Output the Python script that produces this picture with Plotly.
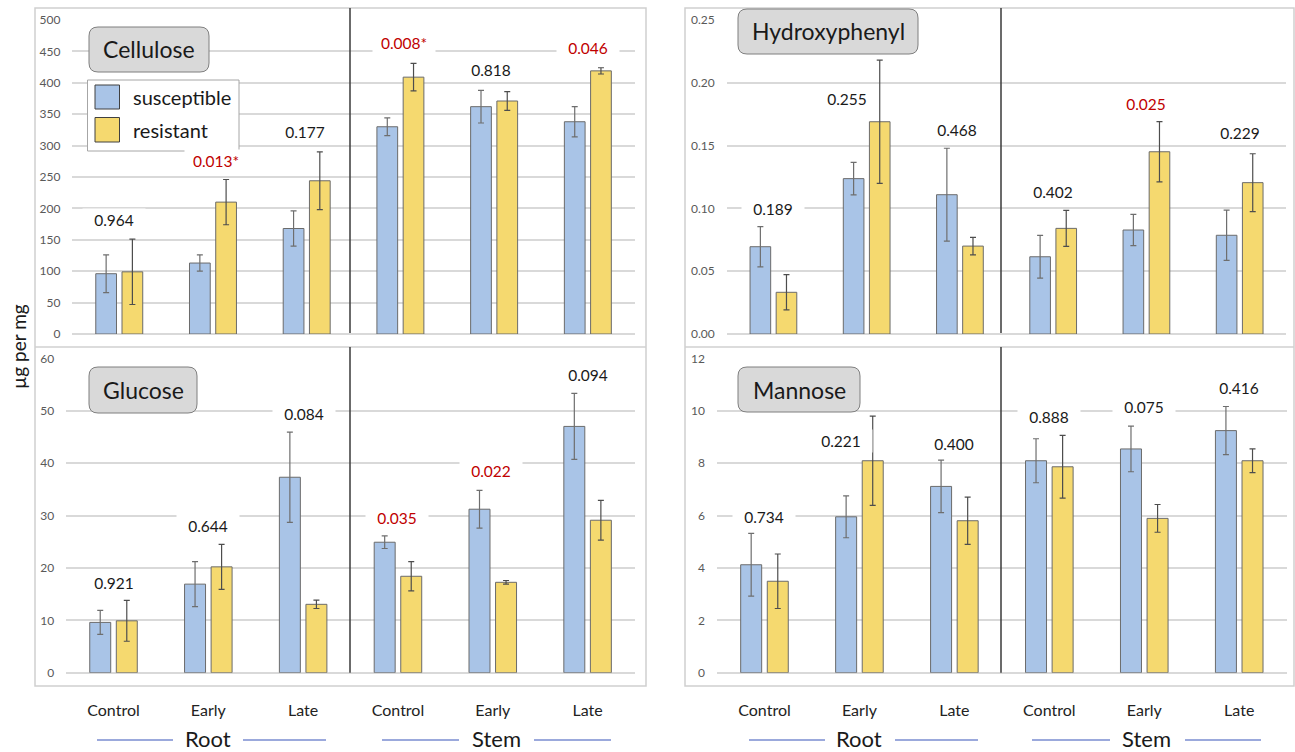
import plotly.graph_objects as go

W, H = 1295, 752

# ---------------- data ----------------
categories = ["Control", "Early", "Late", "Control", "Early", "Late"]
tissues = ["Root", "Stem"]
series_names = ["susceptible", "resistant"]

cellulose_sus = [96, 113, 168, 330, 362, 338]
cellulose_sus_err = [30, 13, 28, 14, 26, 24]
cellulose_res = [99, 210, 244, 409, 371, 419]
cellulose_res_err = [52, 36, 46, 22, 15, 5]
cellulose_p = ["0.964", "0.013*", "0.177", "0.008*", "0.818", "0.046"]
cellulose_sig = [False, True, False, True, False, True]

hydroxy_sus = [0.0695, 0.1237, 0.1109, 0.0615, 0.0828, 0.0786]
hydroxy_sus_err = [0.016, 0.013, 0.037, 0.017, 0.0125, 0.020]
hydroxy_res = [0.0332, 0.169, 0.070, 0.0841, 0.1451, 0.1205]
hydroxy_res_err = [0.014, 0.049, 0.007, 0.0143, 0.024, 0.023]
hydroxy_p = ["0.189", "0.255", "0.468", "0.402", "0.025", "0.229"]
hydroxy_sig = [False, False, False, False, True, False]

glucose_sus = [9.6, 16.9, 37.3, 24.9, 31.2, 47.0]
glucose_sus_err = [2.3, 4.3, 8.6, 1.2, 3.6, 6.3]
glucose_res = [9.9, 20.2, 13.05, 18.4, 17.25, 29.1]
glucose_res_err = [3.9, 4.3, 0.8, 2.8, 0.35, 3.8]
glucose_p = ["0.921", "0.644", "0.084", "0.035", "0.022", "0.094"]
glucose_sig = [False, False, False, True, True, False]

mannose_sus = [4.12, 5.95, 7.11, 8.09, 8.54, 9.24]
mannose_sus_err = [1.2, 0.8, 1.0, 0.84, 0.87, 0.92]
mannose_res = [3.49, 8.09, 5.8, 7.86, 5.89, 8.09]
mannose_res_err = [1.04, 1.7, 0.9, 1.2, 0.53, 0.45]
mannose_p = ["0.734", "0.221", "0.400", "0.888", "0.075", "0.416"]
mannose_sig = [False, False, False, False, False, False]

# label placement (layout, not data)
cellulose_label_y = [181, 275, 322, 463, 420, 455]
cellulose_label_dx = [-0.06, 0.03, -0.02, 0.04, -0.03, 0]
hydroxy_label_y = [0.0995, 0.1869, 0.1624, 0.1133, 0.1831, 0.1603]
hydroxy_label_dx = [0, -0.21, -0.03, 0, 0, 0]
glucose_label_y = [17.2, 28.05, 49.4, 29.6, 38.5, 56.9]
glucose_label_dx = [0, 0, 0.01, -0.01, -0.02, 0]
mannose_label_y = [5.95, 8.84, 8.74, 9.76, 10.13, 10.87]
mannose_label_dx = [0, -0.19, 0, 0, 0, 0]

# ---------------- style ----------------
BLUE = "#a9c4e7"
YELLOW = "#f5d96f"
FONT = "Lato"
GRID = "#d9d9d9"


def px(x):
    return x / W


def py(y):
    return 1 - y / H


panels = [
    dict(name="Cellulose", xa="x", ya="y", xd=(72.4, 634.7), yd=(20, 334), yr=500, dt=50, fmt="",
         sus=cellulose_sus, sus_e=cellulose_sus_err, res=cellulose_res, res_e=cellulose_res_err,
         p=cellulose_p, sig=cellulose_sig, ly=cellulose_label_y, ldx=cellulose_label_dx,
         box=(89, 27, 209, 72), bottom=False),
    dict(name="Hydroxyphenyl", xa="x2", ya="y2", xd=(726.8, 1286.3), yd=(20, 334), yr=0.25, dt=0.05, fmt=".2f",
         sus=hydroxy_sus, sus_e=hydroxy_sus_err, res=hydroxy_res, res_e=hydroxy_res_err,
         p=hydroxy_p, sig=hydroxy_sig, ly=hydroxy_label_y, ldx=hydroxy_label_dx,
         box=(738, 9, 918, 54), bottom=False),
    dict(name="Glucose", xa="x3", ya="y3", xd=(66.1, 635.0), yd=(358.3, 672.7), yr=60, dt=10, fmt="",
         sus=glucose_sus, sus_e=glucose_sus_err, res=glucose_res, res_e=glucose_res_err,
         p=glucose_p, sig=glucose_sig, ly=glucose_label_y, ldx=glucose_label_dx,
         box=(89, 367, 197, 413), bottom=True),
    dict(name="Mannose", xa="x4", ya="y4", xd=(717.0, 1286.7), yd=(358.3, 672.7), yr=12, dt=2, fmt="",
         sus=mannose_sus, sus_e=mannose_sus_err, res=mannose_res, res_e=mannose_res_err,
         p=mannose_p, sig=mannose_sig, ly=mannose_label_y, ldx=mannose_label_dx,
         box=(738, 367, 860, 412), bottom=True),
]

fig = go.Figure()
layout = dict(
    width=W, height=H,
    margin=dict(l=0, r=0, t=0, b=0, pad=0, autoexpand=False),
    paper_bgcolor="white", plot_bgcolor="white",
    barmode="group", bargap=0.44, bargroupgap=0.21,
    showlegend=False,
    font=dict(family=FONT, color="#222222"),
)

shapes = []
annotations = []

xs = list(range(len(categories)))


def ann(x, y, text, size, color="#1a1a1a", xanchor="center", **kw):
    d = dict(x=x, y=y, xref="paper", yref="paper", text=text, showarrow=False,
             xanchor=xanchor, yanchor="middle", font=dict(size=size, color=color, family=FONT))
    d.update(kw)
    return d


for pnl in panels:
    for nm, vals, errs, col, ecol in [
        ("susceptible", pnl["sus"], pnl["sus_e"], BLUE, "#6e6e6e"),
        ("resistant", pnl["res"], pnl["res_e"], YELLOW, "#4d4d4d"),
    ]:
        fig.add_trace(go.Bar(
            x=xs, y=vals, name=nm, xaxis=pnl["xa"], yaxis=pnl["ya"],
            marker=dict(color=col, line=dict(color="#6b6b6b", width=1)),
            error_y=dict(type="data", array=errs, visible=True, color=ecol, thickness=1.2, width=3),
            showlegend=False,
        ))
    xkey = "xaxis" + pnl["xa"][1:]
    ykey = "yaxis" + pnl["ya"][1:]
    layout[xkey] = dict(
        domain=[px(pnl["xd"][0]), px(pnl["xd"][1])], anchor=pnl["ya"],
        range=[-0.5, 5.5], showgrid=False, zeroline=False, showline=False,
        tickvals=xs, ticktext=categories, ticks="", automargin=False,
        showticklabels=pnl["bottom"], ticklabelstandoff=26,
        tickfont=dict(size=16, color="#222222", family=FONT),
    )
    layout[ykey] = dict(
        domain=[py(pnl["yd"][1]), py(pnl["yd"][0])], anchor=pnl["xa"],
        range=[0, pnl["yr"]], dtick=pnl["dt"], tick0=0, tickformat=pnl["fmt"],
        showgrid=True, gridcolor=GRID, gridwidth=1.5, automargin=False,
        zeroline=True, zerolinecolor=GRID, zerolinewidth=1.5,
        showline=False, ticks="", ticklabelstandoff=11,
        tickfont=dict(size=12, color="#595959", family=FONT),
    )
    # p-value labels
    for i, (t, s, yv, dx) in enumerate(zip(pnl["p"], pnl["sig"], pnl["ly"], pnl["ldx"])):
        annotations.append(dict(
            x=i + dx, y=yv, xref=pnl["xa"], yref=pnl["ya"], text=t, showarrow=False,
            xanchor="center", yanchor="middle",
            font=dict(size=15.5, color="#c00000" if s else "#1a1a1a", family=FONT),
            bgcolor="white", width=62, height=22, borderpad=0,
        ))
    # title box (rounded)
    x0, y0, x1, y1 = pnl["box"]
    r = 9
    path = (f"M {px(x0 + r)},{py(y0)} L {px(x1 - r)},{py(y0)} Q {px(x1)},{py(y0)} {px(x1)},{py(y0 + r)} "
            f"L {px(x1)},{py(y1 - r)} Q {px(x1)},{py(y1)} {px(x1 - r)},{py(y1)} "
            f"L {px(x0 + r)},{py(y1)} Q {px(x0)},{py(y1)} {px(x0)},{py(y1 - r)} "
            f"L {px(x0)},{py(y0 + r)} Q {px(x0)},{py(y0)} {px(x0 + r)},{py(y0)} Z")
    shapes.append(dict(type="path", path=path, xref="paper", yref="paper",
                       fillcolor="#d9d9d9", line=dict(color="#7f7f7f", width=1), layer="above"))
    annotations.append(ann(px((x0 + x1) / 2), py((y0 + y1) / 2), pnl["name"], 23))

# frames around the two panels
for (fx0, fx1) in [(35, 646), (685, 1294)]:
    shapes.append(dict(type="rect", xref="paper", yref="paper", x0=px(fx0), x1=px(fx1), y0=py(686), y1=py(8),
                       line=dict(color="#d0d0d0", width=1.5), fillcolor="rgba(0,0,0,0)", layer="below"))
    shapes.append(dict(type="line", xref="paper", yref="paper", x0=px(fx0), x1=px(fx1), y0=py(347), y1=py(347),
                       line=dict(color="#d0d0d0", width=1.5)))

# Root / Stem dividers
for dxp in [350, 1001]:
    for (a, b) in [(8, 333), (347, 672.7)]:
        shapes.append(dict(type="line", xref="paper", yref="paper", x0=px(dxp), x1=px(dxp), y0=py(a), y1=py(b),
                           line=dict(color="#3a3a3a", width=1.5)))

# legend (drawn)
shapes.append(dict(type="rect", xref="paper", yref="paper", x0=px(87.5), x1=px(239), y0=py(151), y1=py(80),
                   line=dict(color="#a6a6a6", width=1), fillcolor="white", layer="above"))
for (col, ya, yb, nm) in [(BLUE, 85, 109, series_names[0]), (YELLOW, 117.5, 142, series_names[1])]:
    shapes.append(dict(type="rect", xref="paper", yref="paper", x0=px(95), x1=px(119.5), y0=py(yb), y1=py(ya),
                       line=dict(color="#404040", width=1), fillcolor=col, layer="above"))
    annotations.append(ann(px(131), py((ya + yb) / 2), nm, 20, xanchor="left"))

# tissue group labels with lines
groups = [
    (tissues[0], 208, (97, 173), (243, 326)),
    (tissues[1], 496, (382, 459), (534, 611)),
    (tissues[0], 859, (749, 825), (895, 978)),
    (tissues[1], 1146, (1032, 1110), (1185, 1261)),
]
for (lab, cx, s1, s2) in groups:
    annotations.append(ann(px(cx), py(738), lab, 22))
    for s in (s1, s2):
        shapes.append(dict(type="line", xref="paper", yref="paper", x0=px(s[0]), x1=px(s[1]), y0=py(740),
                           y1=py(740), line=dict(color="#7a8cd0", width=1.5)))

# y-axis title
annotations.append(ann(px(18), py(347), "µg per mg", 19, textangle=-90))

layout["shapes"] = shapes
layout["annotations"] = annotations
fig.update_layout(**layout)
fig.write_html("out.html")
